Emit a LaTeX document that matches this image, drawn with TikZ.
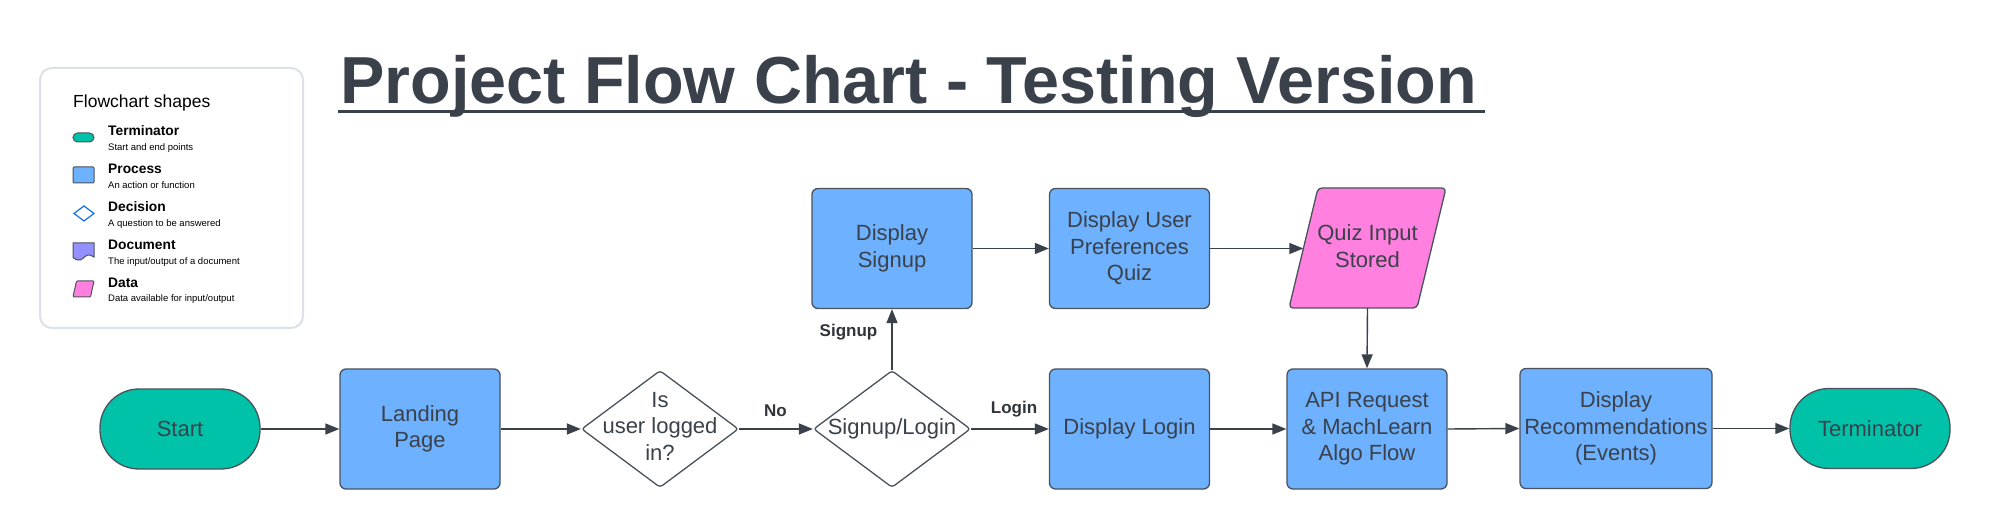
\documentclass[tikz,border=0pt]{standalone}
\usepackage{fontspec}
\setmainfont{Liberation Sans}
\usetikzlibrary{arrows.meta,shapes.geometric}
\definecolor{ink}{HTML}{3A414A}
\definecolor{termc}{HTML}{00C2A8}
\definecolor{procc}{HTML}{6DB1FF}
\definecolor{datac}{HTML}{FF80DF}
\definecolor{docc}{HTML}{9391FF}
\definecolor{decb}{HTML}{1071E5}
\definecolor{edgec}{HTML}{4A525C}
\definecolor{lgray}{HTML}{DDE1E6}
\definecolor{lblc}{HTML}{30353B}
\begin{document}
\begin{tikzpicture}[x=1pt,y=-1pt,
  txt/.style={text=ink, align=center, font=\fontsize{22}{26.5}\selectfont, inner sep=0pt},
  basebox/.style={txt, draw=edgec, line width=1.3pt},
  procbox/.style={basebox, rectangle, rounded corners=6pt, fill=procc, minimum width=160pt, minimum height=120pt},
  termbox/.style={basebox, rectangle, rounded corners=39pt, fill=termc, minimum width=160pt, minimum height=80pt},
  decbox/.style={basebox, diamond, fill=white, minimum width=157pt, minimum height=117pt, rounded corners=3pt},
  databox/.style={draw=edgec, line width=1.3pt, fill=datac, rounded corners=4pt},
  conn/.style={draw=ink, line width=1.4pt, -{Triangle[length=14pt,width=11pt]}},
  elabel/.style={text=lblc, font=\bfseries\fontsize{17}{20}\selectfont, inner sep=0pt, anchor=base},
  legname/.style={text=black, font=\bfseries\fontsize{13.8}{16}\selectfont, inner sep=0pt, anchor=base west},
  legdesc/.style={text=black, font=\fontsize{9.5}{11}\selectfont, inner sep=0pt, anchor=base west},
  icon/.style={draw=edgec, line width=1pt}
]
\fill[white] (0,0) rectangle (1990,529);
\useasboundingbox (0,0) rectangle (1990,529);

% Title
\node[text=ink, font=\bfseries\fontsize{66.5}{70}\selectfont, inner sep=0pt, anchor=base west] (title) at (340,104) {Project Flow Chart - Testing Version};
\draw[ink, line width=3.5pt] (338,111.5) -- (1485,111.5);

% Legend
\draw[lgray, line width=2pt, fill=white, rounded corners=12pt] (40,68) rectangle (303,328);
\node[text=black, font=\fontsize{17.5}{20}\selectfont, inner sep=0pt, anchor=base west] (legtitle) at (73,108) {Flowchart shapes};
\draw[icon, fill=termc, rounded corners=4.5pt] (73,133) rectangle (94,142);
\node[legname] (ln1) at (108,136) {Terminator};
\node[legdesc] (ld1) at (108,151) {Start and end points};
\draw[icon, fill=procc, rounded corners=1pt] (73,167) rectangle (94,183);
\node[legname] (ln2) at (108,174) {Process};
\node[legdesc] (ld2) at (108,189) {An action or function};
\draw[decb, line width=1.2pt, fill=white] (74,213.5) -- (84,206) -- (94,213.5) -- (84,221) -- cycle;
\node[legname] (ln3) at (108,212) {Decision};
\node[legdesc] (ld3) at (108,227) {A question to be answered};
\draw[icon, fill=docc] (73,243) -- (94,243) -- (94,257) .. controls (89,253) and (85,256) .. (83.5,258) .. controls (80,261.5) and (76,260) .. (73,257.5) -- cycle;
\node[legname] (ln4) at (108,250) {Document};
\node[legdesc] (ld4) at (108,265) {The input/output of a document};
\draw[icon, fill=datac, rounded corners=1pt] (76.5,281) -- (94,281) -- (90.5,297) -- (73,297) -- cycle;
\node[legname] (ln5) at (108,288) {Data};
\node[legdesc] (ld5) at (108,302) {Data available for input/output};

% Main flow nodes
\node[termbox] (start) at (180,429) {Start};
\node[procbox] (landing) at (420,429) {Landing\\Page};
\node[decbox, label={[txt, yshift=3pt]center:{Is\\user logged\\in?}}] (dec1) at (660,429) {};
\node[decbox, label={[txt]center:{Signup/Login}}] (dec2) at (892,429) {};
\node[procbox] (signup) at (892,248.5) {Display\\Signup};
\node[procbox] (prefs) at (1129.5,248.5) {Display User\\Preferences\\Quiz};
\draw[databox] (1289,308) -- (1318,188) -- (1446,188) -- (1417,308) -- cycle;
\node[txt, minimum width=128pt, minimum height=116pt] (quiz) at (1367.5,246) {Quiz Input\\Stored};
\node[procbox] (login) at (1129.5,429) {Display Login};
\node[procbox] (api) at (1367,429) {API Request\\\& MachLearn\\Algo Flow};
\node[procbox, minimum width=192pt] (recs) at (1616,428.5) {Display\\Recommendations\\(Events)};
\node[termbox] (term) at (1870,428.5) {Terminator};

% Connectors
\draw[conn] (start.east) -- (landing.west);
\draw[conn] (landing.east) -- (dec1.west);
\draw[conn] (dec1.east) -- (dec2.west);
\draw[conn] (dec2.east) -- (login.west);
\draw[conn] (dec2.north) -- (signup.south);
\draw[conn] (signup.east) -- (prefs.west);
\draw[conn] (prefs.east) -- (prefs.east -| quiz.west);
\draw[conn] ([yshift=-4pt]quiz.south) -- (api.north);
\draw[conn] (login.east) -- (api.west);
\draw[conn] (api.east) -- (recs.west);
\draw[conn] (recs.east) -- (term.west);

% Connector labels
\node[elabel] (lno) at (775.5,417) {No};
\node[elabel] (llogin) at (1014,413) {Login};
\node[elabel] (lsignup) at (848.5,337) {Signup};
\end{tikzpicture}
\end{document}
